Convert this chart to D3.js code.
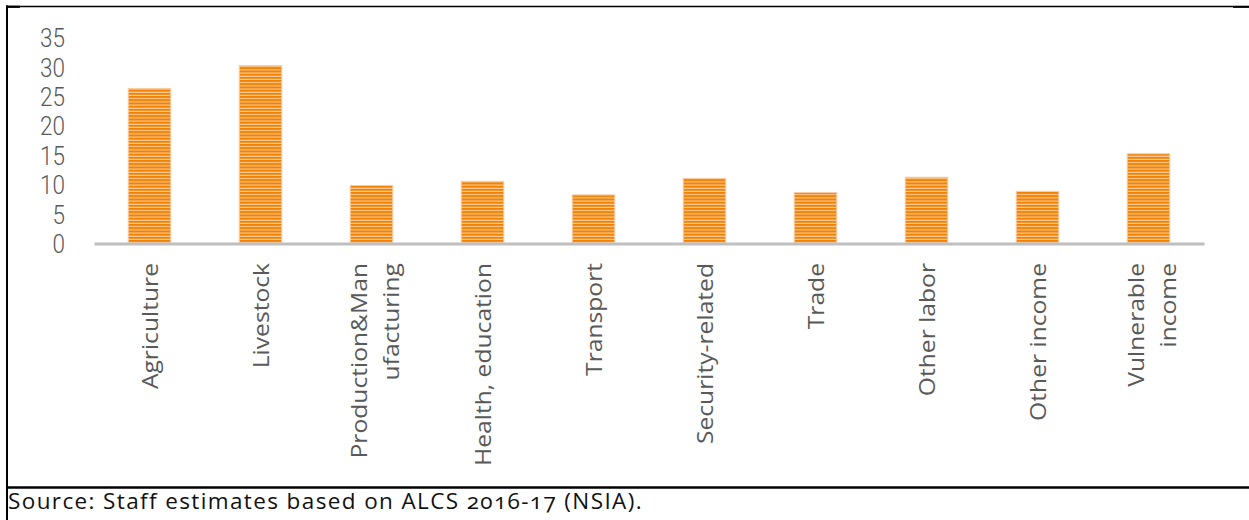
<!DOCTYPE html>
<html>
<head>
<meta charset="utf-8">
<script src="https://cdn.jsdelivr.net/npm/d3@7"></script>
<style>
  html, body { margin: 0; padding: 0; background: #fff; }
  svg { display: block; }
  text { font-family: "Open Sans", "Noto Sans", sans-serif; }
</style>
</head>
<body>
<svg id="chart" width="1249" height="520"></svg>
<script>
// ---- data ----
const categories = [
  ["Agriculture"],
  ["Livestock"],
  ["Production&Man", "ufacturing"],
  ["Health, education"],
  ["Transport"],
  ["Security-related"],
  ["Trade"],
  ["Other labor"],
  ["Other income"],
  ["Vulnerable", "income"]
];
const values = [26.2, 30.1, 9.7, 10.4, 8.1, 10.9, 8.5, 11.1, 8.7, 15.1];
const yTicks = [0, 5, 10, 15, 20, 25, 30, 35];
const sourceText = "Source: Staff estimates based on ALCS 2016-17 (NSIA).";

// ---- layout ----
const svg = d3.select("#chart");
const plot = { left: 94, right: 1204, top: 36.7, bottom: 242.5 };
const stretch = 1.12;
const labelColor = "#595959";

const keys = categories.map(c => c.join(" "));
const x = d3.scaleBand()
  .domain(keys)
  .range([plot.left, plot.right])
  .paddingInner(0.617)
  .paddingOuter(0.3085);

const y = d3.scaleLinear()
  .domain([0, 35])
  .range([plot.bottom, plot.top]);

// stripe pattern
const defs = svg.append("defs");
const pat = defs.append("pattern")
  .attr("id", "stripes")
  .attr("patternUnits", "userSpaceOnUse")
  .attr("width", 8).attr("height", 3.2);
pat.append("rect").attr("width", 8).attr("height", 3.2).attr("fill", "#fbd0a2");
pat.append("rect").attr("width", 8).attr("height", 2.1).attr("fill", "#f08205");

// bars
svg.append("g").selectAll("rect")
  .data(values)
  .join("rect")
  .attr("x", (d, i) => x(keys[i]))
  .attr("y", d => y(d))
  .attr("width", x.bandwidth())
  .attr("height", d => y(0) - y(d))
  .attr("fill", "url(#stripes)")
  .attr("stroke", "#f9cba0")
  .attr("stroke-width", 1);

// y axis
const yAxis = svg.append("g")
  .attr("transform", `translate(65,0)`)
  .call(d3.axisLeft(y).tickValues(yTicks).tickSize(0).tickPadding(0));
yAxis.select(".domain").remove();
yAxis.selectAll("text")
  .attr("fill", labelColor)
  .style("font-family", "Roboto, 'Open Sans', sans-serif")
  .style("font-weight", 300)
  .style("font-size", "22.5px")
  .attr("dy", "0.36em")
  .attr("transform", `translate(0,1) scale(1,${stretch})`);

// x axis
const axisY = 243.5;
const xAxis = svg.append("g")
  .attr("transform", `translate(0,${axisY})`)
  .call(d3.axisBottom(x).tickSize(0).tickSizeOuter(0).tickFormat(""));
xAxis.select(".domain")
  .attr("stroke", "#bfbfbf")
  .attr("stroke-width", 3);

xAxis.selectAll(".tick").each(function(d, i) {
  const lines = categories[i];
  const t = d3.select(this).select("text")
    .attr("fill", labelColor)
    .style("font-size", "22px")
    .attr("text-anchor", "end")
    .attr("dy", null)
    .attr("y", null)
    .attr("transform", `translate(0,${263 - axisY}) scale(1,${stretch}) rotate(-90)`);
  const offs = lines.length === 1 ? [8] : [-5, 28];
  lines.forEach((ln, j) => {
    t.append("tspan").attr("x", 0).attr("y", offs[j]).text(ln);
  });
});

// frame
const frame = svg.append("g").attr("stroke", "#000");
frame.append("line").attr("x1", 6).attr("x2", 1233).attr("y1", 6.5).attr("y2", 6.5).attr("stroke-width", 1.5);
frame.append("line").attr("x1", 6).attr("x2", 20).attr("y1", 6.8).attr("y2", 6.8).attr("stroke-width", 2.2);
frame.append("line").attr("x1", 1233).attr("x2", 1249).attr("y1", 6.8).attr("y2", 6.8).attr("stroke-width", 2.2);
frame.append("line").attr("x1", 7).attr("x2", 7).attr("y1", 5.5).attr("y2", 520).attr("stroke-width", 2);
frame.append("line").attr("x1", 6).attr("x2", 1249).attr("y1", 487.5).attr("y2", 487.5).attr("stroke-width", 2.5);

// source note
svg.append("text")
  .attr("x", 8)
  .attr("y", 509)
  .attr("fill", "#111")
  .style("font-size", "22.5px")
  .style("letter-spacing", "1.38px")
  .style("font-variant-numeric", "oldstyle-nums")
  .text(sourceText);
</script>
</body>
</html>
